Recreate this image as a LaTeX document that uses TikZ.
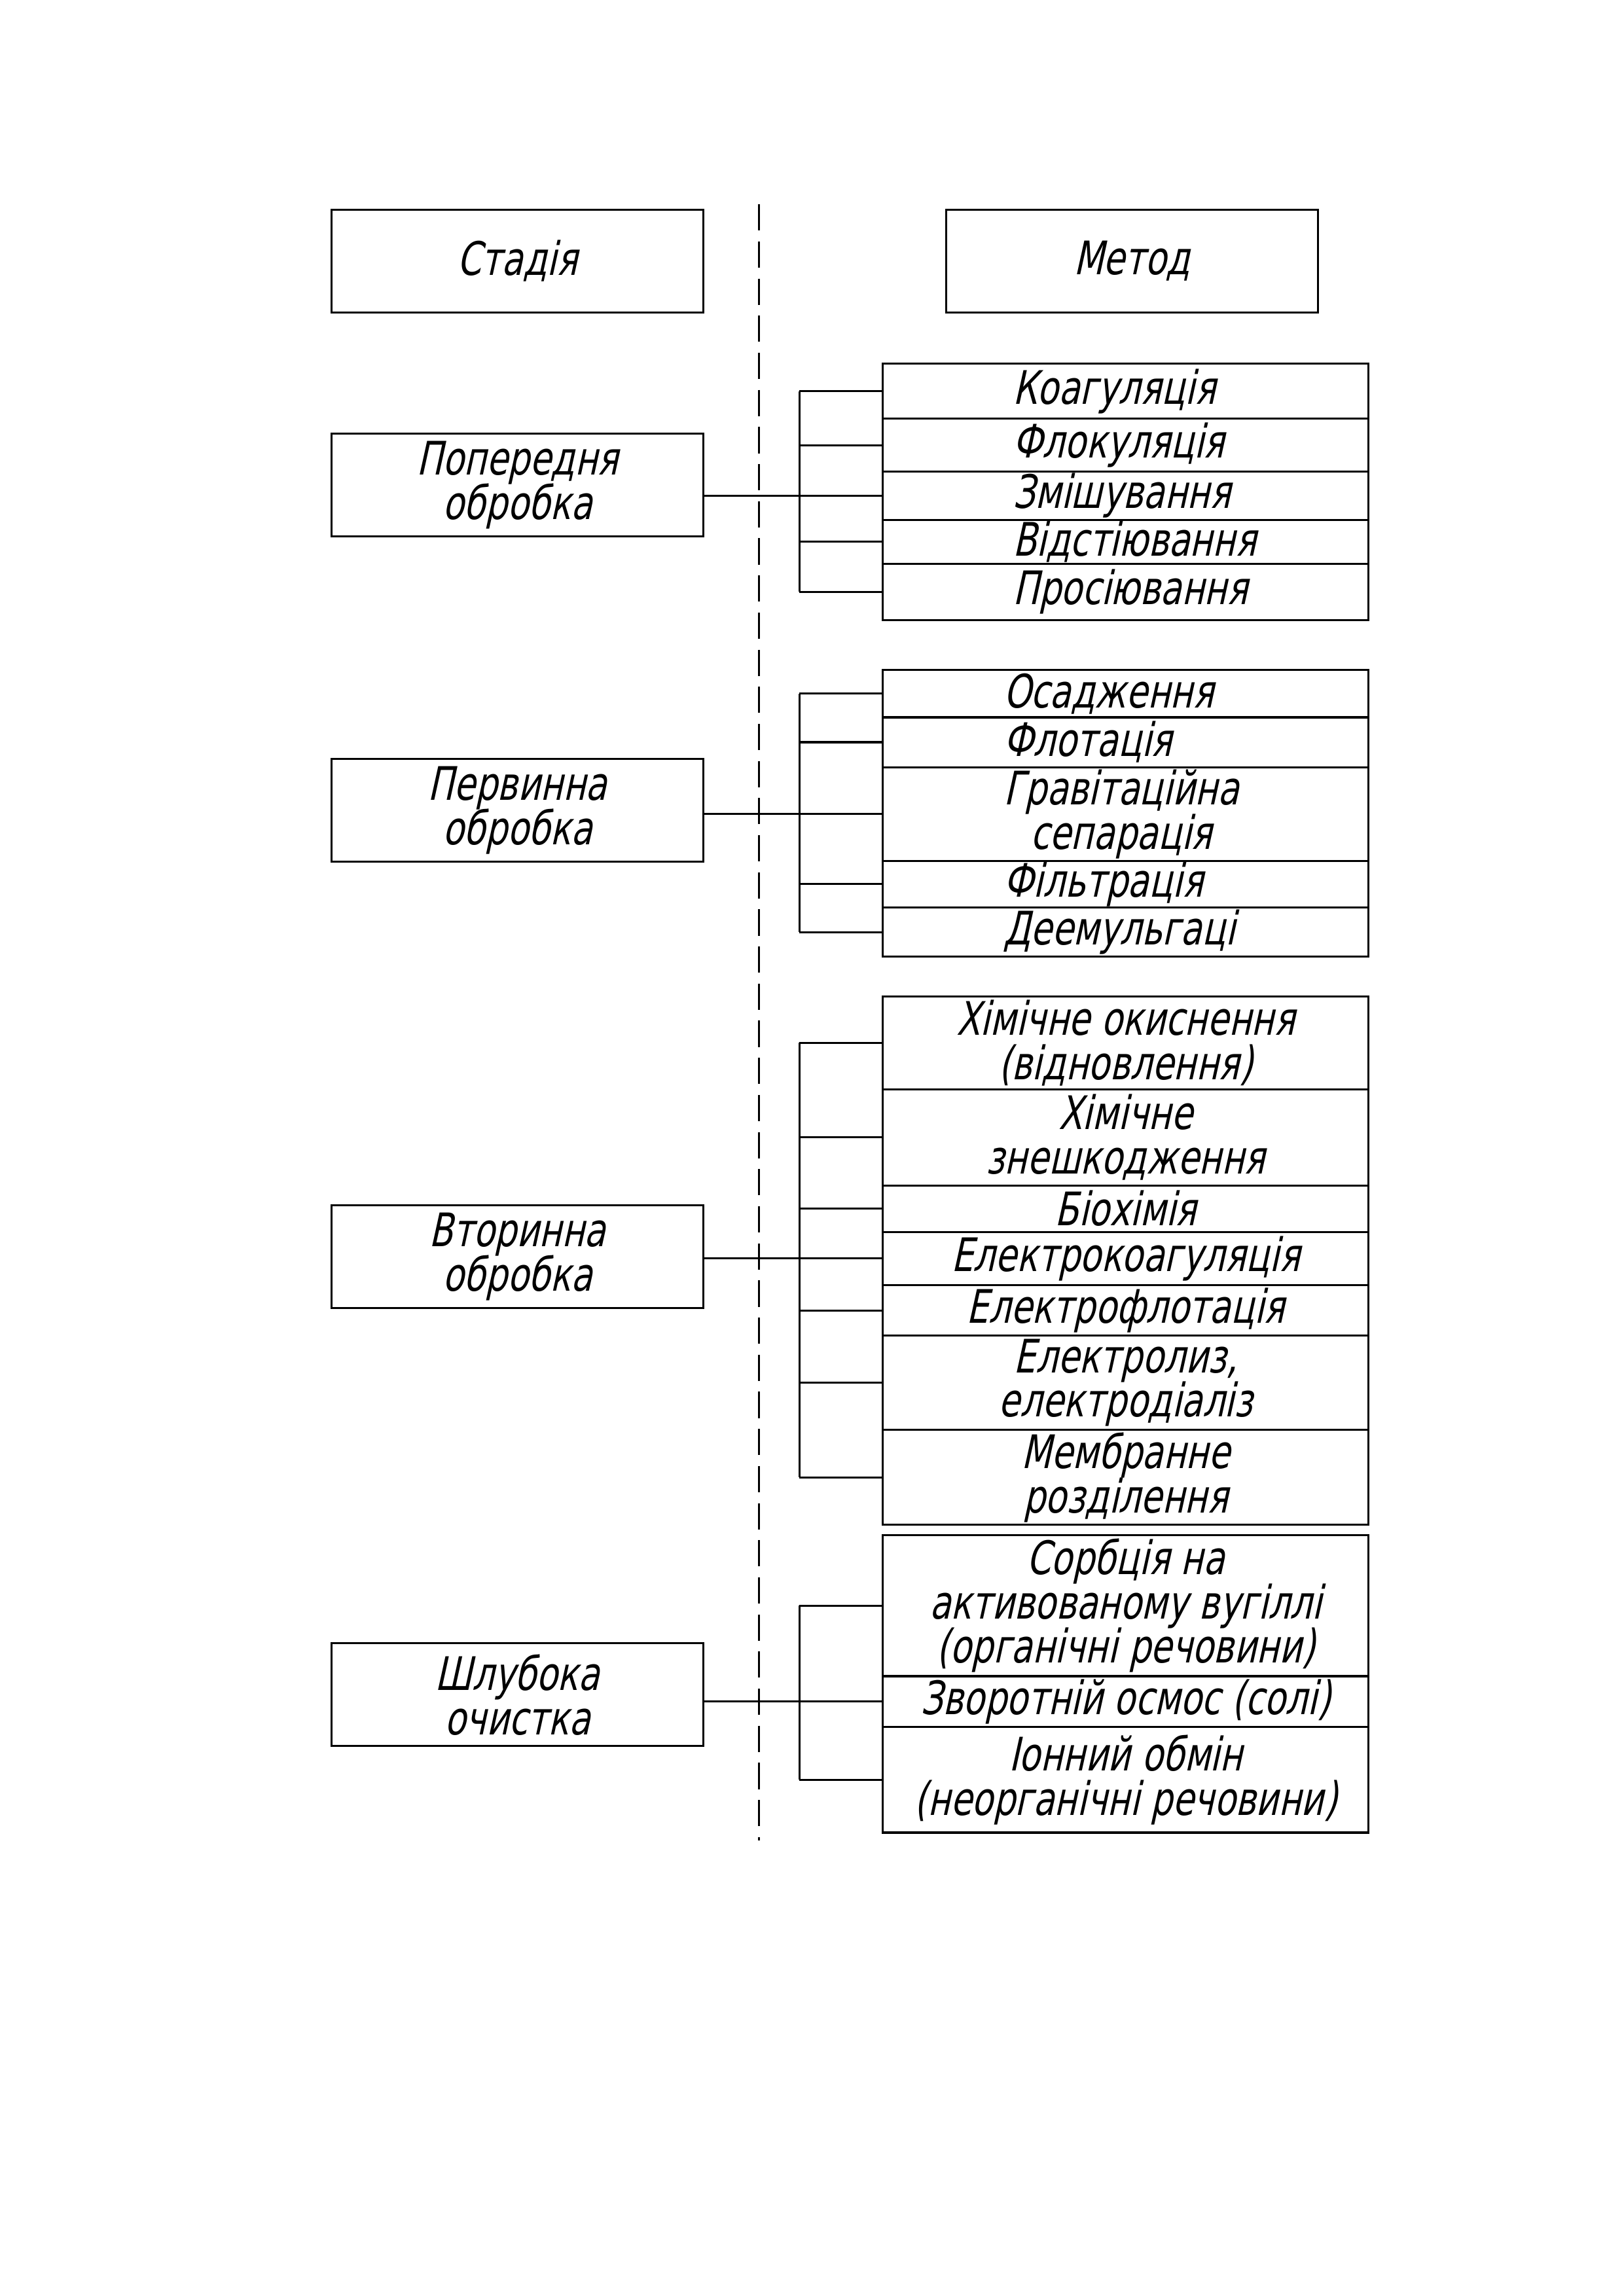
\documentclass[tikz,border=0pt]{standalone}
\usepackage{fontspec}
\newfontfamily\gostfont{DejaVu Sans}[FakeStretch=0.75,FakeSlant=0.22]
\usetikzlibrary{positioning}
\begin{document}
\lineskiplimit=-20pt
\begin{tikzpicture}[x=1mm,y=-1mm,line width=0.75pt,
        every node/.style={font=\gostfont\fontsize{17pt}{16.3pt}\selectfont,
            inner sep=0pt,outer sep=0pt,align=center},
        stage/.style={draw,minimum width=48.1mm,minimum height=13.3mm},
        meth/.style={draw,minimum width=62.8mm,anchor=north},
        lbl/.style={anchor=west}]
    \useasboundingbox (0,0) rectangle (210,297);
    \node[stage] (S0) at (66.93,33.75) {Стадія};
    \node[stage] (H0) at (146.4,33.75) {Метод};
    \coordinate (D1) at (98.13,26.43);
    \coordinate (D2) at (98.13,238.04);
    \draw[dash pattern=on 3.4mm off 1.4mm] (D1) -- (D2);
    \coordinate (B) at (103.4,0);

    \node[stage] (S1) at (66.93,62.72) {Попередня\\обробка};
    \node[meth,minimum height=7.10mm] (M1-1) at (145.6,47.06) {};
    \node[meth,minimum height=6.83mm,below=0pt of M1-1] (M1-2) {};
    \node[meth,minimum height=6.27mm,below=0pt of M1-2] (M1-3) {};
    \node[meth,minimum height=5.66mm,below=0pt of M1-3] (M1-4) {};
    \node[meth,minimum height=7.29mm,below=0pt of M1-4] (M1-5) {};
    \node[lbl] (T1-1) at ([xshift=16.8mm]M1-1.west) {Коагуляція};
    \node[lbl] (T1-2) at ([xshift=16.8mm]M1-2.west) {Флокуляція};
    \node[lbl] (T1-3) at ([xshift=16.8mm]M1-3.west) {Змішування};
    \node[lbl] (T1-4) at ([xshift=16.8mm]M1-4.west) {Відстіювання};
    \node[lbl] (T1-5) at ([xshift=16.8mm]M1-5.west) {Просіювання};

    \node[stage] (S2) at (66.93,104.84) {Первинна\\обробка};
    \node[meth,minimum height=6.12mm] (M2-1) at (145.6,86.67) {};
    \node[meth,minimum height=6.44mm,below=0pt of M2-1] (M2-2) {};
    \node[meth,minimum height=12.13mm,below=0pt of M2-2] (M2-3) {};
    \node[meth,minimum height=6.01mm,below=0pt of M2-3] (M2-4) {};
    \node[meth,minimum height=6.40mm,below=0pt of M2-4] (M2-5) {};
    \node[lbl] (T2-1) at ([xshift=15.6mm]M2-1.west) {Осадження};
    \node[lbl] (T2-2) at ([xshift=15.6mm]M2-2.west) {Флотація};
    \node[lbl] (T2-3) at ([xshift=15.6mm]M2-3.west) {Гравітаційна\\сепарація};
    \node[lbl] (T2-4) at ([xshift=15.6mm]M2-4.west) {Фільтрація};
    \node[lbl] (T2-5) at ([xshift=15.6mm]M2-5.west) {Деемульгаці};

    \node[stage] (S3) at (66.93,162.57) {Вторинна\\обробка};
    \node[meth,minimum height=11.99mm] (M3-1) at (145.6,128.9) {Хімічне окиснення\\(відновлення)};
    \node[meth,minimum height=12.45mm,below=0pt of M3-1] (M3-2) {Хімічне\\знешкодження};
    \node[meth,minimum height=6.00mm,below=0pt of M3-2] (M3-3) {Біохімія};
    \node[meth,minimum height=6.92mm,below=0pt of M3-3] (M3-4) {Електрокоагуляція};
    \node[meth,minimum height=6.50mm,below=0pt of M3-4] (M3-5) {Електрофлотація};
    \node[meth,minimum height=12.22mm,below=0pt of M3-5] (M3-6) {Електролиз,\\електродіаліз};
    \node[meth,minimum height=12.23mm,below=0pt of M3-6] (M3-7) {Мембранне\\розділення};

    \node[stage] (S4) at (66.93,219.22) {Шлубока\\очистка};
    \node[meth,minimum height=18.27mm] (M4-1) at (145.6,198.55) {Сорбція на\\активованому вугіллі\\(органічні речовини)};
    \node[meth,minimum height=6.59mm,below=0pt of M4-1] (M4-2) {Зворотній осмос (солі)};
    \node[meth,minimum height=13.64mm,below=0pt of M4-2] (M4-3) {Іонний обмін\\(неорганічні речовини)};

    \foreach \g/\n/\m in {1/5/3,2/5/3,3/7/4,4/3/2} {
        \draw (M\g-1.west -| B) -- (M\g-\n.west -| B);
        \foreach \i in {1,...,\n}
            \draw (M\g-\i.west) -- (M\g-\i.west -| B);
        \draw (S\g.east |- M\g-\m.west) -- (M\g-\m.west);
    }
\end{tikzpicture}
\end{document}
